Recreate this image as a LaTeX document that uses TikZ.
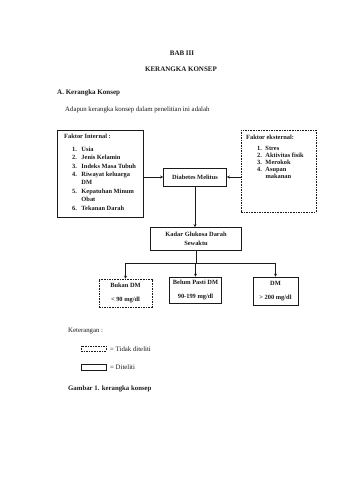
\documentclass[tikz,border=0pt]{standalone}
\usepackage{fontspec}
\setmainfont{Liberation Serif}
\usepackage{xcolor}
\usetikzlibrary{arrows.meta,positioning}
\definecolor{ink}{HTML}{1A1A1A}
\newcommand{\headfs}{\fontsize{7}{8.4}\selectfont}
\newcommand{\bodyfs}{\fontsize{6.8}{8.4}\selectfont}
\newcommand{\boxfs}{\fontsize{6.4}{8.4}\selectfont}
\newcommand{\tightfs}{\fontsize{6.4}{7}\selectfont}
\tikzset{
  txt/.style={inner sep=0pt,text=ink,font=\bodyfs},
  konsep/.style={draw=ink,line width=0.7pt,align=center,inner sep=0pt,
                 text=ink,font=\boxfs\bfseries},
  ghostkonsep/.style={konsep,dash pattern=on 1.6pt off 1pt},
  arr/.style={-{Stealth[length=3pt,width=3pt]},line width=0.6pt,draw=ink}
}

\begin{document}
\begin{tikzpicture}[x=1pt,y=-1pt]
    \path[use as bounding box,fill=white] (0,0) rectangle (340,480);
    % judul
    \node[txt,font=\headfs\bfseries] (bab) at (182,53) {BAB III};
    \node[txt,font=\headfs\bfseries] (judul) at (181,69) {KERANGKA KONSEP};
    \node[txt,anchor=west,font=\headfs\bfseries] (sub) at (57,93)
      {A. Kerangka Konsep};
    \node[txt,anchor=west] (intro) at (65,110)
      {Adapun kerangka konsep dalam penelitian ini adalah};

    % faktor
    \node[konsep,minimum width=86pt,minimum height=87pt] (internal)
      at (100,173.5) {};
    \node[txt,anchor=north west,align=left,font=\boxfs\bfseries]
      (internaltext) at (64,133.6)
      {Faktor Internal :\\[4.6pt]
       \begin{tabular}[t]{@{\hspace{8pt}}r@{\hspace{4.5pt}}l@{}}
         1. & Usia\\
         2. & Jenis Kelamin\\
         3. & Indeks Masa Tubuh\\
         4. & Riwayat keluarga\\
            & DM\\
         5. & Kepatuhan Minum\\
            & Obat\\
         6. & Tekanan Darah
       \end{tabular}};

    \node[ghostkonsep,minimum width=75pt,minimum height=82pt] (external)
      at (278.5,171) {};
    \node[txt,anchor=north west,align=left,font=\tightfs\bfseries]
      (externaltext) at (246,134.6)
      {Faktor eksternal:\\[4pt]
       \begin{tabular}[t]{@{\hspace{11pt}}r@{\hspace{3.5pt}}l@{}}
         1. & Stres\\
         2. & Aktivitas fisik\\
         3. & Merokok\\
         4. & Asupan\\
            & makanan
       \end{tabular}};

    \node[konsep,minimum width=63pt,minimum height=18pt] (dm)
      at (195,177) {Diabetes Melitus};
    \node[konsep,minimum width=91pt,minimum height=23pt] (kadar)
      at (196,239) {Kadar Glukosa Darah\\Sewaktu};

    % hasil
    \node[ghostkonsep,minimum width=53pt,minimum height=28pt] (bukan)
      at (125.5,293) {Bukan DM\\[6pt]< 90 mg/dl};
    \node[konsep,minimum width=52pt,minimum height=26pt] (belum)
      at (195.5,290) {Belum Pasti DM\\[6pt]90-199 mg/dl};
    \node[konsep,minimum width=45pt,minimum height=28pt] (dmbox)
      at (275.5,291) {DM\\[6pt]> 200 mg/dl};

    \draw[arr] (internal.east |- dm.west) -- (dm.west);
    \draw[arr] (external.west |- dm.east) -- (dm.east);
    \draw[arr] (dm.south) -- (dm.south |- kadar.north);

    \coordinate (split) at (196,263);
    \draw[line width=0.6pt,draw=ink] (kadar.south) -- (split);
    \draw[arr] (split) -| (bukan.north);
    \draw[arr] (split) -- (split -| belum.north) -- (belum.north);
    \draw[arr] (split) -| (dmbox.north);

    % keterangan
    \node[txt,anchor=west] (ket) at (68,331) {Keterangan :};
    \node[ghostkonsep,minimum width=25pt,minimum height=5pt] (legdash)
      at (93.5,348.5) {};
    \node[txt,anchor=west] (legdashtext) at (110,349) {= Tidak diteliti};
    \node[konsep,minimum width=25pt,minimum height=6pt] (legsolid)
      at (93.5,367) {};
    \node[txt,anchor=west] (legsolidtext) at (110,367) {= Diteliti};
    \node[txt,anchor=west,font=\bodyfs\bfseries] (gambar) at (68,389)
      {Gambar 1. kerangka konsep};
  \end{tikzpicture}
\end{document}
